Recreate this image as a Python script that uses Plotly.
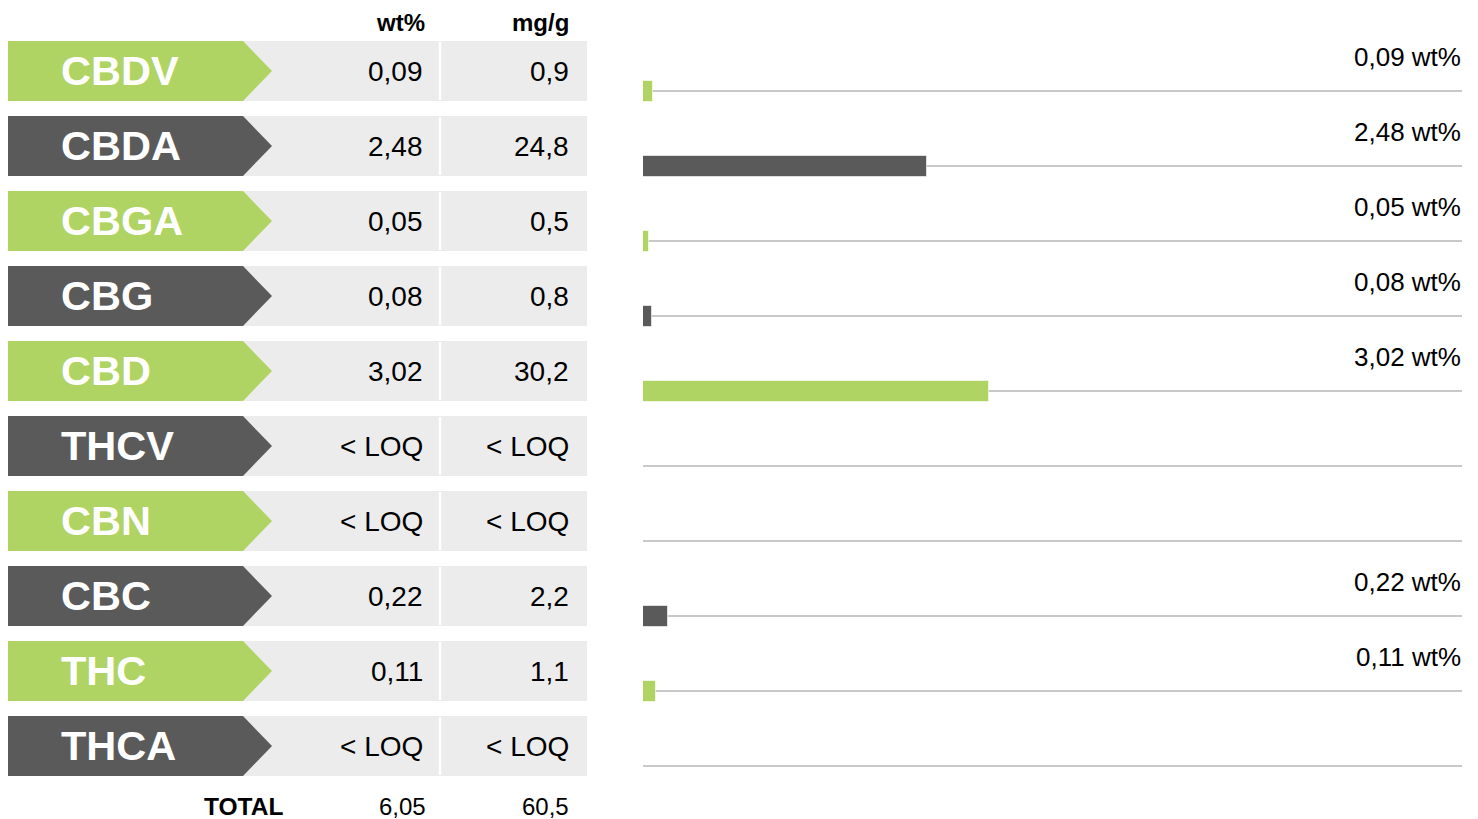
import plotly.graph_objects as go

# ---------------- data ----------------
cannabinoids = ["CBDV", "CBDA", "CBGA", "CBG", "CBD", "THCV", "CBN", "CBC", "THC", "THCA"]
wt_pct = [0.09, 2.48, 0.05, 0.08, 3.02, None, None, 0.22, 0.11, None]
mg_per_g = [0.9, 24.8, 0.5, 0.8, 30.2, None, None, 2.2, 1.1, None]
total_label = "TOTAL"
total_wt = 6.05
total_mg = 60.5
header_wt = "wt%"
header_mg = "mg/g"
loq_text = "< LOQ"

# ---------------- style ----------------
GREEN = "#b0d463"
GREY = "#5a5a5a"
ROW_BG = "#ececec"
LINE = "#c9c9c9"
FONT = "Liberation Sans, Arial, sans-serif"
W, H = 1478, 819

ROW_TOP0 = 41
ROW_PITCH = 75
ROW_H = 60
TBL_X0, TBL_X1 = 8, 587
ARROW_SHOULDER, ARROW_TIP = 243, 272
DIVIDER_X = 440
COL_WT_X, COL_MG_X = 425, 571
BAR_X0, BAR_X1 = 643, 1462
PX_PER_UNIT = 114.5
BAR_MAX = (BAR_X1 - BAR_X0) / PX_PER_UNIT
BAR_H = 21


def fmt(v, d):
    return f"{v:.{d}f}".replace(".", ",")


row_colors = [GREEN if i % 2 == 0 else GREY for i in range(len(cannabinoids))]
row_tops = [ROW_TOP0 + ROW_PITCH * i for i in range(len(cannabinoids))]
row_mids = [t + ROW_H / 2 for t in row_tops]
baselines = [t + 50 for t in row_tops]

fig = go.Figure()

# bars
bar_x = [v if v is not None else 0 for v in wt_pct]
fig.add_trace(go.Bar(
    x=bar_x, y=baselines, orientation="h", xaxis="x2", yaxis="y",
    width=BAR_H, base=0,
    marker=dict(color=row_colors, line=dict(color="rgba(255,255,255,0.6)", width=1)),
    hoverinfo="skip", showlegend=False,
))

shapes = []
annotations = []

for i, name in enumerate(cannabinoids):
    top = row_tops[i]
    bot = top + ROW_H
    mid = row_mids[i]
    shapes.append(dict(type="rect", xref="x", yref="y", x0=TBL_X0, x1=TBL_X1, y0=top, y1=bot,
                       fillcolor=ROW_BG, line=dict(width=0), layer="below"))
    path = (f"M {TBL_X0},{top} L {ARROW_SHOULDER},{top} L {ARROW_TIP},{mid} "
            f"L {ARROW_SHOULDER},{bot} L {TBL_X0},{bot} Z")
    shapes.append(dict(type="path", xref="x", yref="y", path=path,
                       fillcolor=row_colors[i], line=dict(width=0), layer="below"))
    shapes.append(dict(type="line", xref="x", yref="y", x0=DIVIDER_X, x1=DIVIDER_X,
                       y0=top + 1, y1=bot - 1, line=dict(color="white", width=2.5), layer="below"))
    shapes.append(dict(type="line", xref="x2", yref="y", x0=0, x1=BAR_MAX,
                       y0=baselines[i], y1=baselines[i], line=dict(color=LINE, width=2), layer="below"))

    annotations.append(dict(text=f"<b>{name}</b>", x=59, y=mid - 1, xref="x", yref="y",
                            xanchor="left", yanchor="middle", showarrow=False,
                            font=dict(family=FONT, size=41.5, color="white")))
    wt_txt = fmt(wt_pct[i], 2) if wt_pct[i] is not None else loq_text
    mg_txt = fmt(mg_per_g[i], 1) if mg_per_g[i] is not None else loq_text
    annotations.append(dict(text=wt_txt, x=COL_WT_X, y=mid, xref="x", yref="y",
                            xanchor="right", yanchor="middle", showarrow=False,
                            font=dict(family=FONT, size=28, color="black")))
    annotations.append(dict(text=mg_txt, x=COL_MG_X, y=mid, xref="x", yref="y",
                            xanchor="right", yanchor="middle", showarrow=False,
                            font=dict(family=FONT, size=28, color="black")))
    if wt_pct[i] is not None:
        annotations.append(dict(text=f"{fmt(wt_pct[i], 2)} wt%", x=1, y=top + 16,
                                xref="x2 domain", yref="y", xanchor="right", yanchor="middle",
                                xshift=1, showarrow=False,
                                font=dict(family=FONT, size=26, color="black")))

annotations.append(dict(text=f"<b>{header_wt}</b>", x=427, y=22, xref="x", yref="y",
                        xanchor="right", yanchor="middle", showarrow=False,
                        font=dict(family=FONT, size=24, color="black")))
annotations.append(dict(text=f"<b>{header_mg}</b>", x=COL_MG_X, y=22, xref="x", yref="y",
                        xanchor="right", yanchor="middle", showarrow=False,
                        font=dict(family=FONT, size=24, color="black")))
annotations.append(dict(text=f"<b>{total_label}</b>", x=285, y=806, xref="x", yref="y",
                        xanchor="right", yanchor="middle", showarrow=False,
                        font=dict(family=FONT, size=24.5, color="black")))
annotations.append(dict(text=fmt(total_wt, 2), x=428, y=806, xref="x", yref="y",
                        xanchor="right", yanchor="middle", showarrow=False,
                        font=dict(family=FONT, size=24, color="black")))
annotations.append(dict(text=fmt(total_mg, 1), x=COL_MG_X, y=806, xref="x", yref="y",
                        xanchor="right", yanchor="middle", showarrow=False,
                        font=dict(family=FONT, size=24, color="black")))

fig.update_layout(
    width=W, height=H,
    margin=dict(l=0, r=0, t=0, b=0),
    paper_bgcolor="white", plot_bgcolor="rgba(0,0,0,0)",
    xaxis=dict(range=[0, W], domain=[0, 1], visible=False, fixedrange=True),
    xaxis2=dict(range=[0, BAR_MAX], domain=[BAR_X0 / W, BAR_X1 / W], anchor="y",
                visible=False, fixedrange=True),
    yaxis=dict(range=[H, 0], domain=[0, 1], visible=False, fixedrange=True),
    shapes=shapes,
    annotations=annotations,
    bargap=0,
    showlegend=False,
)

fig.write_html("out.html", config={"displayModeBar": False},
               post_script="document.body.style.margin='0';document.body.style.overflow='hidden';")
